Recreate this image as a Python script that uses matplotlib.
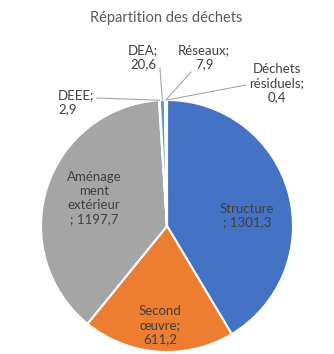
import numpy as np
import matplotlib.pyplot as plt

# waste breakdown (tonnes)
names = ['Structure', 'Second œuvre', 'Aménagement extérieur', 'DEEE', 'DEA',
         'Réseaux', 'Déchets résiduels']
values = [1301.3, 611.2, 1197.7, 2.9, 20.6, 7.9, 0.4]
colors = ['#4472C4', '#ED7D31', '#A5A5A5', '#FFC000', '#5B9BD5', '#70AD47', '#264478']

# how each name is wrapped in its label, and what joins it to the value
wrapped = ['Structure', 'Second\nœuvre', 'Aménage\nment\nextérieur', 'DEEE', 'DEA',
           'Réseaux', 'Déchets\nrésiduels']
joins = ['\n; ', ';\n', '\n; ', ';\n', ';\n', ';\n', ';\n']

# label centres (data coords), outside ones get a leader line
label_pos = [(0.635, 0.083), (-0.056, -0.786), (-0.579, 0.222),
             (-0.865, 0.980), (-0.190, 1.337), (0.294, 1.337), (0.873, 1.131)]
leader_end = [None, None, None,
              (-0.556, 1.016), (-0.056, 1.254), (0.190, 1.222), (0.627, 1.119)]

txt = '#404040'
plt.rcParams['font.family'] = ['Lato', 'DejaVu Sans']

fig = plt.figure(figsize=(3.34, 3.54), dpi=100)
ax = fig.add_axes([41 / 334, 2 / 354, 252 / 334, 252 / 354])

wedges, _ = ax.pie(values, colors=colors, startangle=90, counterclock=False,
                   wedgeprops=dict(edgecolor='white', linewidth=1.5))
ax.set_xlim(-1, 1)
ax.set_ylim(-1, 1)
ax.set_aspect('equal')
ax.axis('off')

for i, (w, v) in enumerate(zip(wedges, values)):
    label = wrapped[i] + joins[i] + f'{v:.1f}'.replace('.', ',')
    x, y = label_pos[i]
    ha = 'left' if names[i] == 'DEEE' else 'center'
    ax.text(x, y, label, ha=ha, va='center', multialignment=ha,
            fontsize=9.5, color=txt, linespacing=1.2, clip_on=False)
    if leader_end[i] is not None:
        mid = np.deg2rad((w.theta1 + w.theta2) / 2)
        lx, ly = leader_end[i]
        ax.plot([lx, np.cos(mid)], [ly, np.sin(mid)], color='#A6A6A6',
                lw=0.8, clip_on=False)

fig.text(166.5 / 334, 1 - 18 / 354, 'Répartition des déchets', ha='center',
         va='center', fontsize=10.5, color='#595959')

fig.savefig('out.png', dpi=100)
